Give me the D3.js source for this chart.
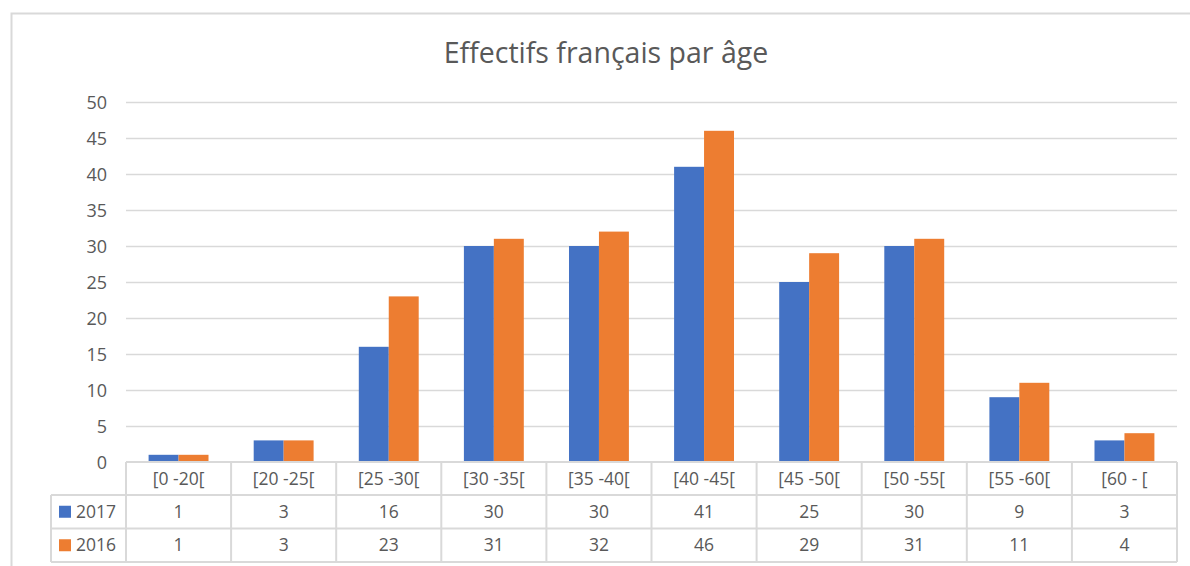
<!DOCTYPE html>
<html><head><meta charset="utf-8">
<script src="https://cdn.jsdelivr.net/npm/d3@7"></script>
<style>html,body{margin:0;padding:0;background:#fff;overflow:hidden}</style>
</head><body>
<svg id="c" width="1190" height="566"></svg>
<script>
const categories = ["[0 -20[", "[20 -25[", "[25 -30[", "[30 -35[", "[35 -40[", "[40 -45[", "[45 -50[", "[50 -55[", "[55 -60[", "[60 - ["];
const seriesNames = ["2017", "2016"];
const values2017 = [1, 3, 16, 30, 30, 41, 25, 30, 9, 3];
const values2016 = [1, 3, 23, 31, 32, 46, 29, 31, 11, 4];
const yTicks = [0, 5, 10, 15, 20, 25, 30, 35, 40, 45, 50];
const chartTitle = "Effectifs français par âge";

(function () {
const colors = ["#4472C4", "#ED7D31"];
const series = [values2017, values2016];
const font = "'Open Sans', 'Noto Sans', sans-serif";
const textColor = "#595959";
const lineColor = "#d9d9d9";
const tableFs = 17.5, axisFs = 18;

const svg = d3.select("#c");
svg.append("rect").attr("x", 11.5).attr("y", 13.5).attr("width", 1200).attr("height", 600)
  .attr("fill", "#fff").attr("stroke", lineColor).attr("stroke-width", 2);

const pLeft = 126, pRight = 1177, pTop = 102, pBottom = 462;
const x0 = d3.scaleBand().domain(categories).range([pLeft, pRight]).paddingInner(0.43).paddingOuter(0.215);
const x1 = d3.scaleBand().domain(seriesNames).range([0, x0.bandwidth()]);
const y = d3.scaleLinear().domain([0, 50]).range([pBottom, pTop]);
const step = x0.step();

svg.append("text").attr("x", 606).attr("y", 63).attr("text-anchor", "middle")
  .attr("font-family", font).attr("font-size", 28.5).attr("fill", textColor).text(chartTitle);

svg.append("g").selectAll("line").data(yTicks.filter(d => d > 0)).join("line")
  .attr("x1", pLeft).attr("x2", pRight).attr("y1", d => Math.round(y(d)) + 0.5).attr("y2", d => Math.round(y(d)) + 0.5)
  .attr("stroke", lineColor).attr("stroke-width", 1.5);

const yAxis = d3.axisLeft(y).tickValues(yTicks).tickSize(0).tickPadding(0);
const gy = svg.append("g").attr("transform", `translate(107,0)`).call(yAxis);
gy.select(".domain").remove();
gy.selectAll("text").attr("font-family", font).attr("font-size", axisFs).attr("fill", textColor).attr("dy", "0.35em");

svg.append("g").selectAll("g").data(categories).join("g")
  .attr("transform", d => `translate(${x0(d)},0)`)
  .selectAll("rect").data((d, i) => series.map((s, j) => ({k: seriesNames[j], v: s[i], c: colors[j]}))).join("rect")
  .attr("x", d => x1(d.k)).attr("width", x1.bandwidth())
  .attr("y", d => y(d.v)).attr("height", d => y(0) - y(d.v)).attr("fill", d => d.c);

const rowY = [462, 495, 528.5, 562];
const tableLeft = 51;
const tg = svg.append("g").attr("stroke", lineColor).attr("stroke-width", 2);
tg.append("line").attr("x1", pLeft).attr("x2", pRight).attr("y1", rowY[0]).attr("y2", rowY[0]);
for (let r = 1; r < rowY.length; r++) {
  tg.append("line").attr("x1", tableLeft).attr("x2", pRight).attr("y1", rowY[r]).attr("y2", rowY[r]);
}
tg.append("line").attr("x1", tableLeft).attr("x2", tableLeft).attr("y1", rowY[1]).attr("y2", rowY[3]);
const bounds = categories.map(c => x0(c) - x0.paddingInner() * step / 2).concat([pRight]);
bounds.forEach(b => tg.append("line").attr("x1", b).attr("x2", b).attr("y1", rowY[0]).attr("y2", rowY[3]));

svg.append("g").selectAll("text").data(categories).join("text")
  .attr("x", d => x0(d) + x0.bandwidth() / 2).attr("y", (rowY[0] + rowY[1]) / 2).attr("dy", "0.35em")
  .attr("text-anchor", "middle").attr("font-family", font).attr("font-size", tableFs).attr("fill", textColor).text(d => d);

series.forEach((s, j) => {
  const cy = (rowY[j + 1] + rowY[j + 2]) / 2;
  svg.append("rect").attr("x", 59).attr("y", cy - 6).attr("width", 12).attr("height", 12).attr("fill", colors[j]);
  svg.append("text").attr("x", 76).attr("y", cy).attr("dy", "0.35em").attr("font-family", font)
    .attr("font-size", tableFs).attr("fill", textColor).text(seriesNames[j]);
  svg.append("g").selectAll("text").data(s).join("text")
    .attr("x", (d, i) => x0(categories[i]) + x0.bandwidth() / 2).attr("y", cy).attr("dy", "0.35em")
    .attr("text-anchor", "middle").attr("font-family", font).attr("font-size", tableFs).attr("fill", textColor).text(d => d);
});
})();
</script>
</body></html>
